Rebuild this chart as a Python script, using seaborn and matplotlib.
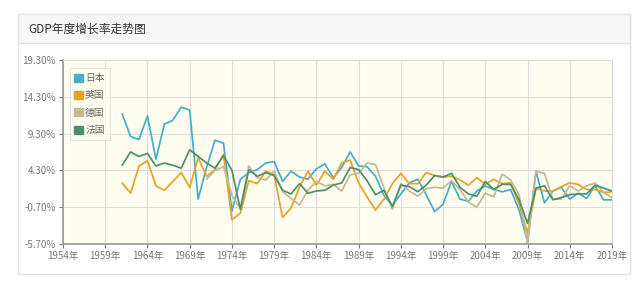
import numpy as np
import pandas as pd
import matplotlib
matplotlib.use("Agg")
import matplotlib.pyplot as plt
from matplotlib.patches import Patch, Rectangle
import seaborn as sns

years = list(range(1961, 2020))

japan = [12.0, 8.9, 8.5, 11.7, 5.8, 10.6, 11.1, 12.9, 12.5, 0.4,
         4.7, 8.4, 8.0, -1.2, 3.1, 4.0, 4.4, 5.3, 5.5, 2.8,
         4.2, 3.4, 3.1, 4.5, 5.2, 3.3, 4.7, 6.8, 4.9, 4.8,
         3.5, 0.9, -0.5, 1.1, 2.6, 3.1, 1.0, -1.3, -0.3, 2.8,
         0.4, 0.1, 1.5, 2.2, 1.7, 1.4, 1.7, -1.1, -5.4, 4.2,
         -0.1, 1.5, 2.0, 0.4, 1.2, 0.5, 2.2, 0.3, 0.3]

uk = [2.6, 1.2, 4.9, 5.6, 2.2, 1.6, 2.8, 4.0, 2.0, 6.0,
      3.5, 4.4, 6.5, -2.4, -1.5, 2.9, 2.5, 4.2, 3.7, -2.1,
      -0.8, 2.0, 4.2, 2.3, 4.2, 3.1, 5.3, 5.7, 2.6, 0.7,
      -1.1, 0.4, 2.5, 3.9, 2.5, 2.5, 4.0, 3.6, 3.4, 3.5,
      3.0, 2.3, 3.3, 2.4, 3.1, 2.5, 2.6, -0.3, -4.2, 1.9,
      1.5, 1.5, 2.1, 2.6, 2.4, 1.7, 1.7, 1.3, 1.4]

germany = [np.nan] * 10 + [
      3.1, 4.3, 4.8, 0.9, -0.9, 4.9, 3.3, 3.0, 4.2, 1.4,
      0.5, -0.4, 1.6, 2.8, 2.2, 2.4, 1.5, 3.7, 3.9, 5.3,
      5.1, 1.9, -1.0, 2.5, 1.5, 0.8, 1.8, 2.0, 1.9, 2.9,
      1.7, 0.0, -0.7, 1.2, 0.7, 3.8, 3.0, 1.0, -5.7, 4.2,
      3.9, 0.4, 0.4, 2.2, 1.5, 2.2, 2.6, 1.3, 0.6]

france = [5.0, 6.8, 6.2, 6.6, 4.9, 5.3, 5.0, 4.6, 7.1, 6.2,
          5.3, 4.6, 6.3, 4.3, -1.0, 4.4, 3.5, 4.0, 3.6, 1.6,
          1.1, 2.5, 1.2, 1.5, 1.6, 2.3, 2.6, 4.7, 4.4, 2.9,
          1.0, 1.6, -0.6, 2.3, 2.1, 1.4, 2.3, 3.6, 3.4, 3.9,
          2.0, 1.1, 0.8, 2.8, 1.7, 2.4, 2.4, 0.3, -2.9, 1.9,
          2.2, 0.3, 0.6, 1.0, 1.1, 1.1, 2.3, 1.9, 1.5]

series_names = ["日本", "英国", "德国", "法国"]
colors = ["#45aecb", "#e6a324", "#c4ba8f", "#4e8f6b"]

y_ticks = [-5.70, -0.70, 4.30, 9.30, 14.30, 19.30]
x_ticks = list(range(1954, 2020, 5))

sns.set_theme(style="white")
plt.rcParams["font.family"] = ["Noto Sans CJK SC", "DejaVu Sans"]

frames = []
for name, vals in zip(series_names, [japan, uk, germany, france]):
    frames.append(pd.DataFrame({"年份": years, "增长率": vals, "国家": name}))
df = pd.concat(frames, ignore_index=True)

fig = plt.figure(figsize=(6.4, 2.88), dpi=100)
W, H = 640, 288

# card frame and header (drawn behind the axes)
card = Rectangle((18 / W, 1 - 274 / H), (630 - 18) / W, (274 - 14) / H,
                 transform=fig.transFigure, facecolor="white",
                 edgecolor="#e3e3e3", linewidth=1, zorder=-10)
fig.patches.append(card)
header = Rectangle((18 / W, 1 - 43 / H), (630 - 18) / W, (43 - 14) / H,
                   transform=fig.transFigure, facecolor="#f7f7f7",
                   edgecolor="#e3e3e3", linewidth=1, zorder=-9)
fig.patches.append(header)
fig.text(28 / W, 1 - 29 / H, "GDP年度增长率走势图", fontsize=8.5,
         color="#333333", va="center", ha="left")

ax = fig.add_axes([63 / W, 1 - 244 / H, (612 - 63) / W, (244 - 60) / H])
ax.set_zorder(1)
ax.set_facecolor("#fffcf0")

sns.lineplot(data=df, x="年份", y="增长率", hue="国家",
             palette=dict(zip(series_names, colors)), linewidth=1.25,
             ax=ax, legend=False)

ax.set_xlim(1954, 2019)
ax.set_ylim(-5.7, 19.3)
ax.set_xticks(x_ticks)
ax.set_xticklabels([f"{y}年" for y in x_ticks])
ax.set_yticks(y_ticks)
ax.set_yticklabels([f"{v:.2f}%" for v in y_ticks])
ax.set_xlabel("")
ax.set_ylabel("")
ax.grid(True, color="#dedede", linewidth=0.8)
ax.tick_params(axis="both", labelsize=7, colors="#777777", length=3,
               width=0.8, direction="out", bottom=True, left=True, pad=2)
for s in ["top", "right"]:
    ax.spines[s].set_color("#dddddd")
    ax.spines[s].set_linewidth(0.8)
for s in ["left", "bottom"]:
    ax.spines[s].set_color("#999999")
    ax.spines[s].set_linewidth(1.2)

handles = [Patch(facecolor=c, edgecolor=c) for c in colors]
leg = ax.legend(handles, series_names, loc="upper left",
                bbox_to_anchor=(0.012, 0.955), borderaxespad=0,
                fontsize=7, frameon=True, fancybox=False,
                handlelength=0.9, handleheight=0.9, handletextpad=0.2,
                labelspacing=0.75, borderpad=0.5)
leg.get_frame().set_edgecolor("#dddddd")
leg.get_frame().set_facecolor("#fffcf0")
leg.get_frame().set_linewidth(0.8)
for t in leg.get_texts():
    t.set_color("#666666")

fig.savefig("out.png", dpi=100)
